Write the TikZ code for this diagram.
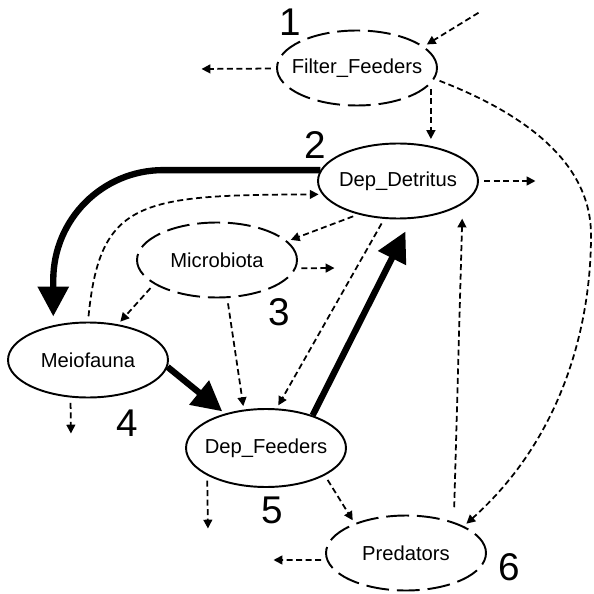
\documentclass[tikz,border=0pt]{standalone}
\usepackage{fontspec}
\setmainfont{Liberation Sans}
\usepackage{tikz}
\usetikzlibrary{arrows.meta, shapes.geometric}
\tikzset{
  pool/.style={ellipse, draw=black, line width=1.1pt, minimum width=3.2cm, minimum height=1.5cm,
    inner xsep=-20pt, inner ysep=0pt, font=\fontsize{11.5}{13}\selectfont},
  dpool/.style={pool, dash pattern=on 13pt off 4.5pt},
  num/.style={inner sep=0pt, font=\fontsize{22}{24}\selectfont},
  flow/.style={line width=1pt, dash pattern=on 3.4pt off 2pt, -{Triangle[length=5pt,width=5pt]},
    shorten <=3pt, shorten >=2pt},
  bigflow/.style={line width=3.6pt, -{Triangle[length=17pt,width=17pt]}}
}

\begin{document}
\begin{tikzpicture}[x=0.02cm, y=-0.02cm]
  \useasboundingbox (0,0) rectangle (593,594);

  % pools
  \node[dpool] (ff) at (357,68) {Filter\_Feeders};
  \node[pool] (det) at (398,181) {Dep\_Detritus};
  \node[dpool] (mic) at (217,260) {Microbiota};
  \node[pool] (mei) at (88,360) {Meiofauna};
  \node[pool, minimum height=1.56cm] (dfd) at (266,448) {Dep\_Feeders};
  \node[dpool] (pred) at (406,553) {Predators};

  % numbers
  \node[num] (l1) at (290,22) {1};
  \node[num] (l2) at (315,145) {2};
  \node[num] (l3) at (279,312) {3};
  \node[num] (l4) at (127,423) {4};
  \node[num] (l5) at (272,510) {5};
  \node[num] (l6) at (509,567) {6};

  % open ends
  \coordinate (ffin) at (483,10);
  \coordinate (ffout) at (198,69);
  \coordinate (detout) at (539,181);
  \coordinate (micout) at (338,268);
  \coordinate (meiout) at (71,437);
  \coordinate (dfdout) at (208,532);
  \coordinate (predout) at (270,560);

  \foreach \from/\to in {
    ffin/ff.18, ff/ffout,
    det/detout, det.220/mic.15, det.250/dfd.75,
    mic.-6/micout, mic.201/mei.50, mic.-75/dfd.120,
    mei.-115/meiout,
    dfd.-155/dfdout, dfd.-25/pred.150,
    pred.185/predout}
    \draw[flow] (\from) -- (\to);

  \draw[flow] (ff.-12) -- (ff.-12 |- det.north);
  \draw[flow] (ff.-8) .. controls (520,112) and (591,160) .. (591,235)
    .. controls (591,330) and (560,440) .. (pred.25);
  \draw[flow] (mei.north) .. controls (100,200) and (140,195) .. (det.190);
  \draw[flow, shorten <=7pt, shorten >=4.5pt] ([xshift=0.16cm]pred.40) -- ([xshift=0.26cm]det.-30);

  % big flows
  \draw[bigflow, rounded corners=2.2cm, shorten >=5pt] (det.172) -| (mei.135);
  \draw[bigflow, shorten >=2pt] (mei.-5) -- (dfd.140);
  \draw[bigflow, shorten >=8pt] (dfd.35) -- (det.-70);
\end{tikzpicture}
\end{document}
